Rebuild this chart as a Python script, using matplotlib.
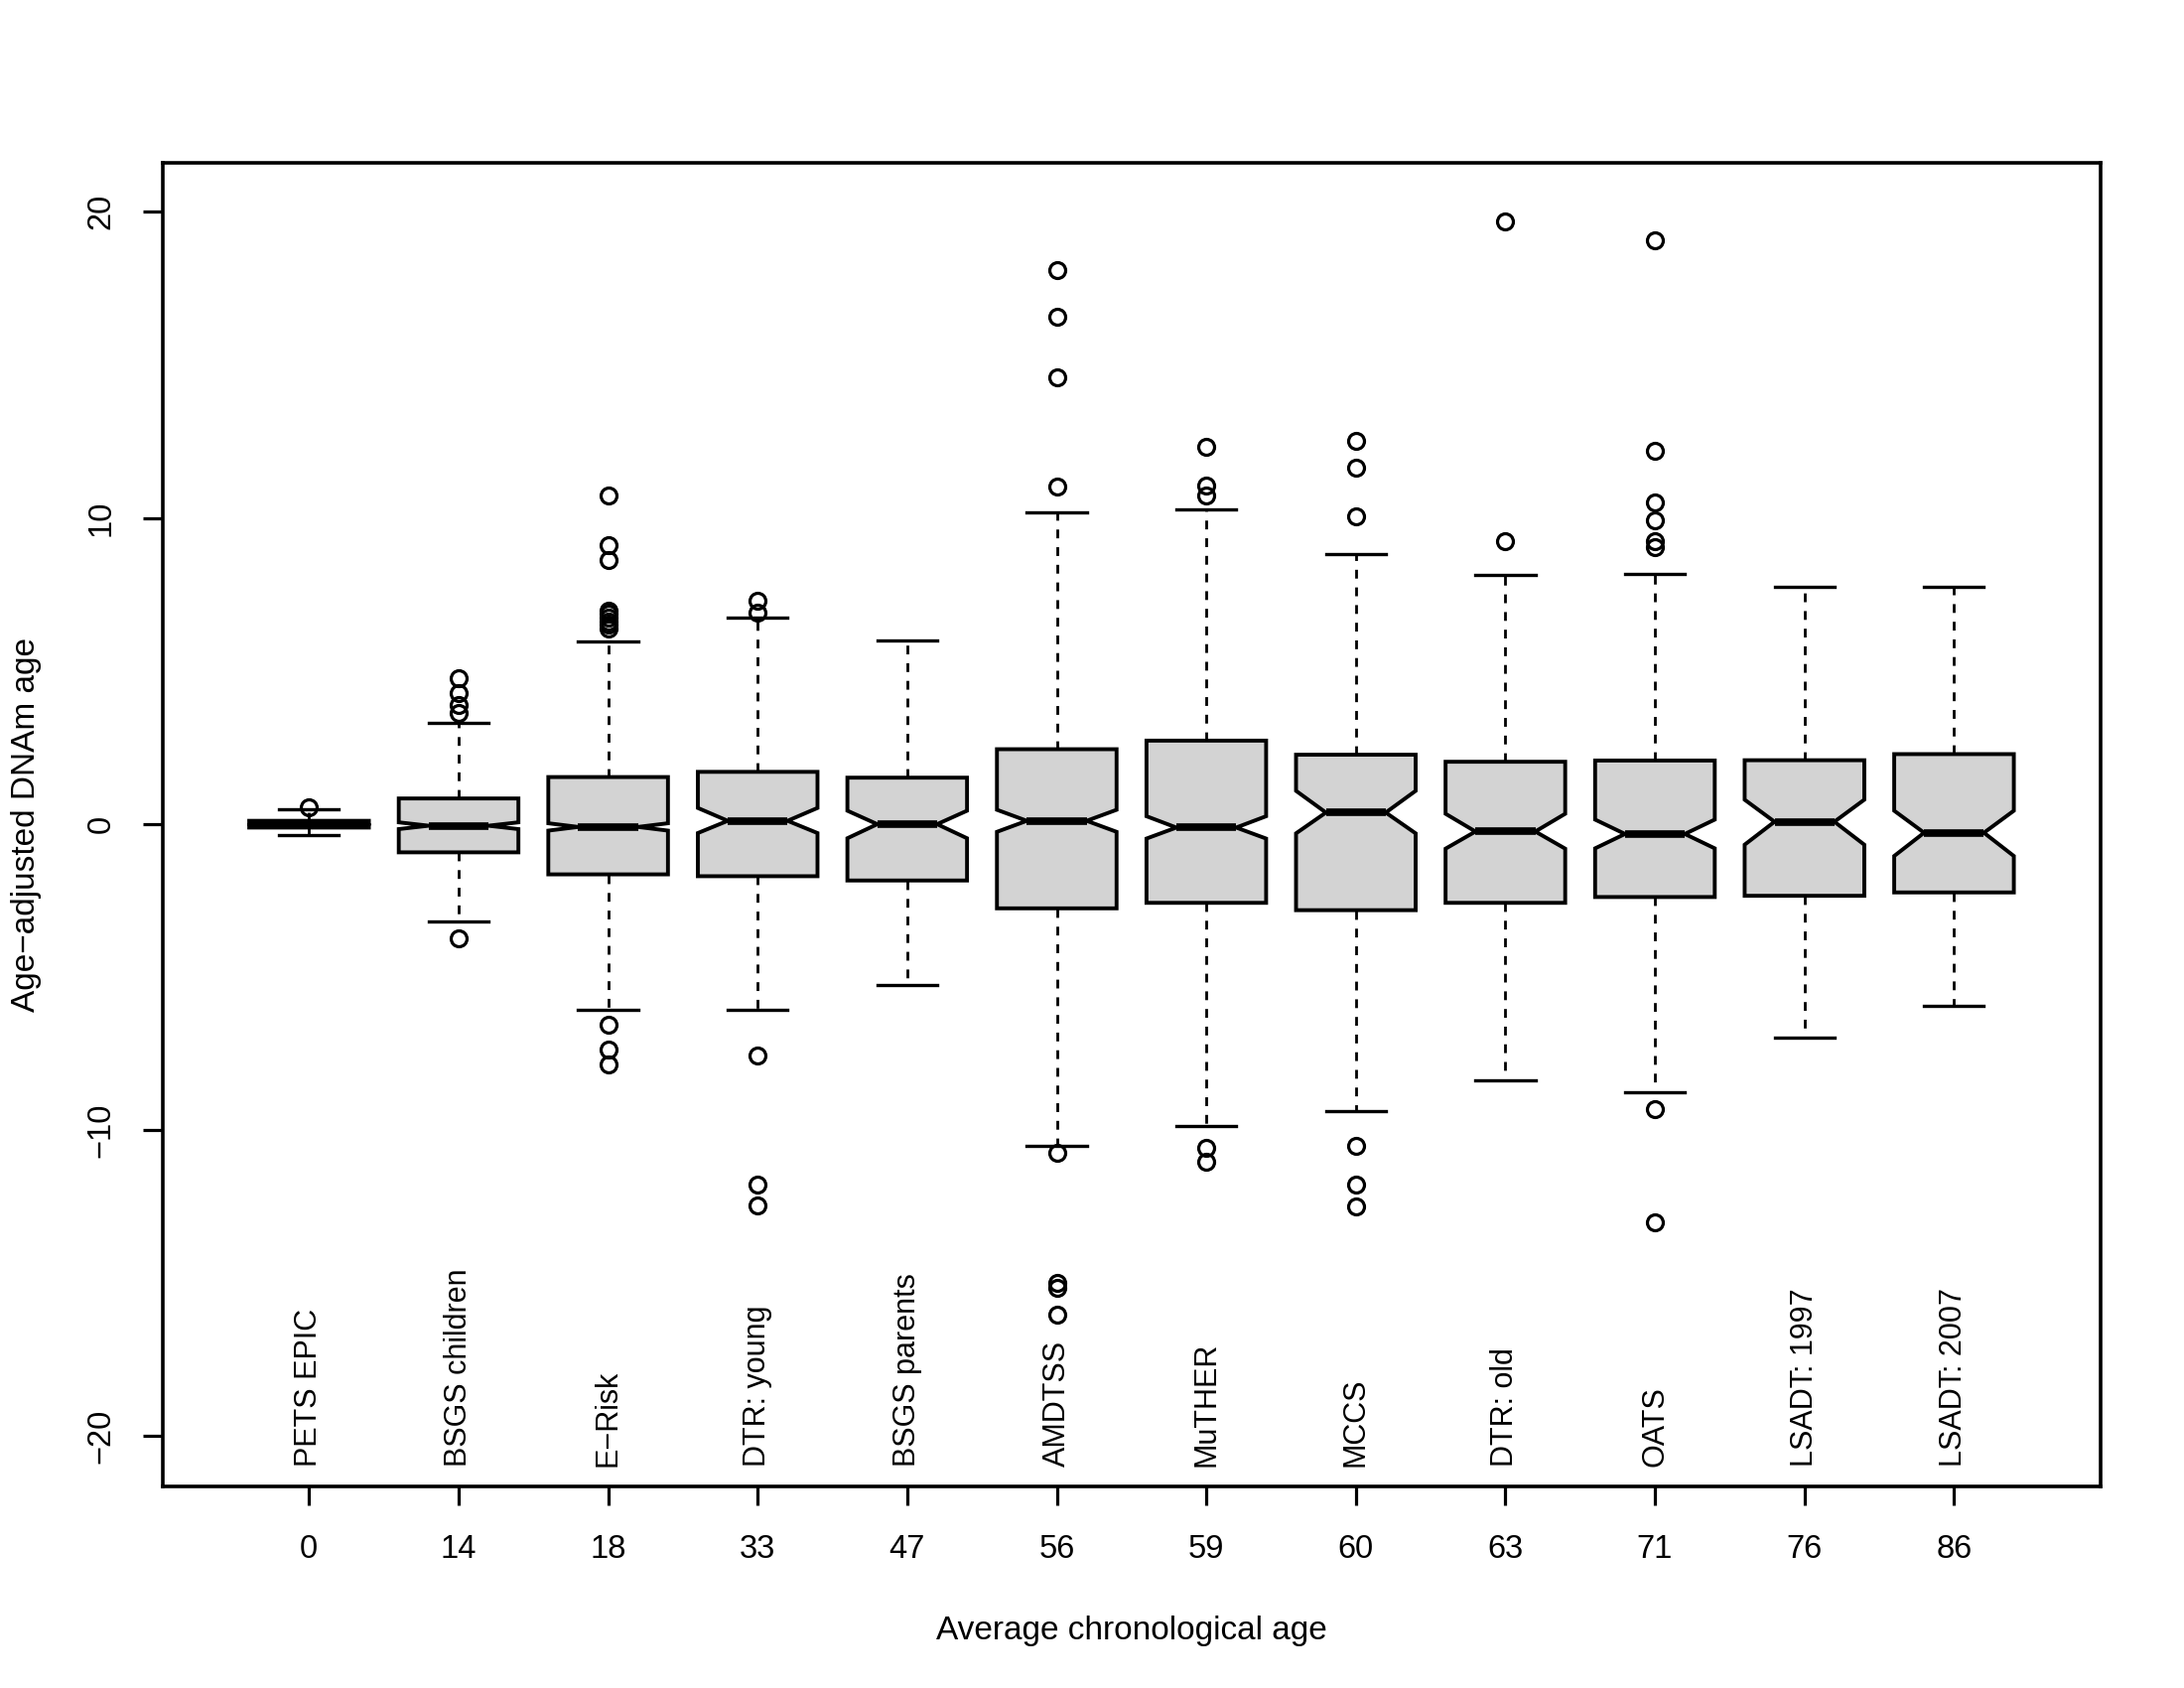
import matplotlib
matplotlib.use("Agg")
import matplotlib.pyplot as plt

plt.rcParams['font.family'] = ['Liberation Sans', 'DejaVu Sans']

# ---------------- data ----------------
groups = ["PETS EPIC", "BSGS children", "E\u2212Risk", "DTR: young", "BSGS parents",
          "AMDTSS", "MuTHER", "MCCS", "DTR: old", "OATS", "LSADT: 1997", "LSADT: 2007"]
ages = ["0", "14", "18", "33", "47", "56", "59", "60", "63", "71", "76", "86"]

medians = [-0.02, -0.06, -0.10, 0.10, -0.01, 0.10, -0.12, 0.37, -0.25, -0.33, 0.07, -0.29]
q1s     = [-0.12, -0.93, -1.65, -1.71, -1.85, -2.76, -2.58, -2.82, -2.58, -2.39, -2.35, -2.24]
q3s     = [0.10, 0.83, 1.53, 1.70, 1.51, 2.44, 2.72, 2.26, 2.03, 2.07, 2.08, 2.28]
notch_lo = [-0.05, -0.17, -0.22, -0.30, -0.47, -0.26, -0.48, -0.31, -0.81, -0.80, -0.68, -1.05]
notch_hi = [0.01, 0.05, 0.02, 0.52, 0.43, 0.46, 0.25, 1.08, 0.33, 0.14, 0.79, 0.43]
whisk_lo = [-0.36, -3.20, -6.07, -6.07, -5.28, -10.51, -9.87, -9.37, -8.37, -8.78, -7.00, -5.96]
whisk_hi = [0.47, 3.29, 5.97, 6.73, 6.00, 10.19, 10.28, 8.83, 8.15, 8.16, 7.74, 7.74]
outliers = [
    [0.55],
    [4.75, 4.26, 3.88, 3.61, -3.74],
    [10.72, 9.11, 8.61, 6.97, 6.86, 6.74, 6.62, 6.50, 6.38, -6.57, -7.36, -7.85],
    [7.29, 6.91, -7.58, -11.79, -12.47],
    [],
    [18.11, 16.56, 14.60, 11.01, -10.74, -15.00, -15.15, -16.04],
    [12.33, 11.06, 10.74, -10.59, -11.05],
    [12.51, 11.65, 10.06, -10.51, -11.78, -12.50],
    [19.70, 9.24],
    [19.07, 12.18, 10.50, 9.92, 9.24, 9.05, -9.33, -13.01],
    [],
    [],
]

y_ticks = [-20, -10, 0, 10, 20]

# ---------------- figure ----------------
FS_TICK = 23.5
FS_AXIS = 24
FS_GROUP = 22
fig = plt.figure(figsize=(22, 17), dpi=100)
ax = fig.add_axes([0.0744, 0.1196, 0.8874, 0.7841])

stats = []
for i, g in enumerate(groups):
    stats.append(dict(label=g, med=medians[i], q1=q1s[i], q3=q3s[i],
                      cilo=notch_lo[i], cihi=notch_hi[i],
                      whislo=whisk_lo[i], whishi=whisk_hi[i],
                      fliers=outliers[i]))

positions = list(range(1, len(groups) + 1))
ax.bxp(stats, positions=positions, widths=0.8, shownotches=True,
       patch_artist=True, manage_ticks=False,
       boxprops=dict(facecolor='#D3D3D3', edgecolor='black', linewidth=2.8),
       medianprops=dict(color='black', linewidth=5.5, solid_capstyle='butt'),
       whiskerprops=dict(color='black', linewidth=2.0, linestyle=(0, (3.2, 3.2))),
       capprops=dict(color='black', linewidth=2.4),
       flierprops=dict(marker='o', markerfacecolor='none', markeredgecolor='black',
                       markersize=11.5, markeredgewidth=2.3, linestyle='none'))

ax.set_xlim(0.02, 12.98)
ax.set_ylim(-21.64, 21.61)

ax.set_xticks(positions)
ax.set_xticklabels(ages, fontsize=FS_TICK)
ax.set_yticks(y_ticks)
ax.set_yticklabels([f"{v}".replace("-", "\u2212") for v in y_ticks], fontsize=FS_TICK,
                   rotation=90, va='center')
ax.tick_params(axis='x', length=13.5, width=2.3, pad=21)
ax.tick_params(axis='y', length=14.5, width=2.3, pad=18.5)
for sp in ax.spines.values():
    sp.set_linewidth(2.6)

# group labels inside the plot
LABEL_Y = -21.0
for p, g in zip(positions, groups):
    ax.text(p, LABEL_Y, g, rotation=90, ha='center', va='bottom', fontsize=FS_GROUP)

fig.text(1140 / 2200, 1 - 1643 / 1700, "Average chronological age",
         ha='center', va='center', fontsize=FS_AXIS)
fig.text(27 / 2200, 1 - 830 / 1700, "Age\u2212adjusted DNAm age",
         ha='center', va='center', rotation=90, fontsize=FS_AXIS)

fig.savefig("out.png", dpi=100, facecolor='white')
